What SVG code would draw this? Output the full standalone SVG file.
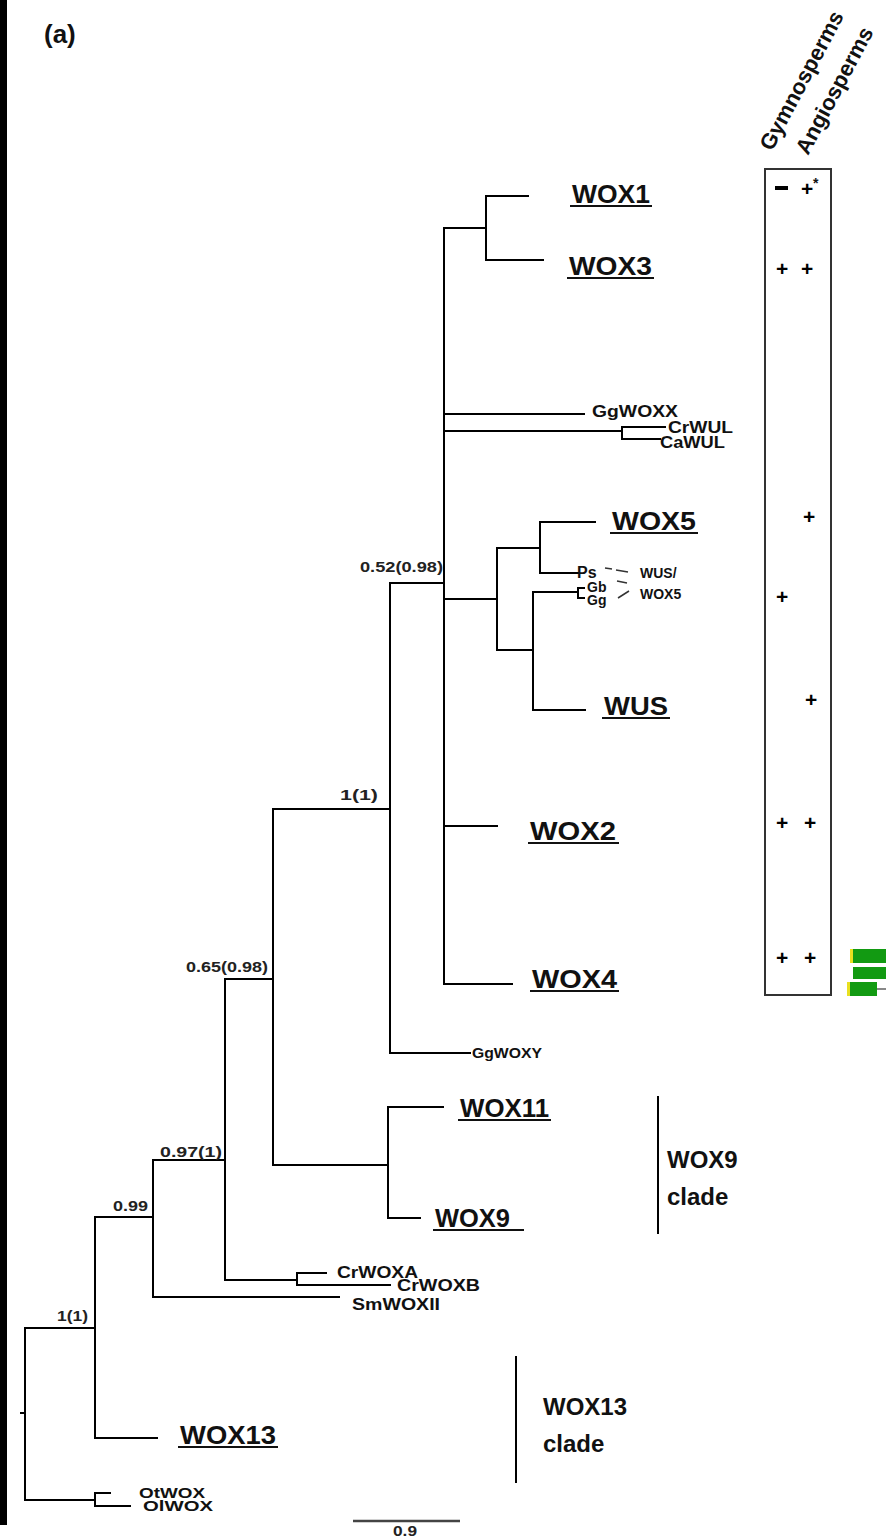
<svg xmlns="http://www.w3.org/2000/svg" width="886" height="1539" viewBox="0 0 886 1539">
<style>
.br{stroke:#000;stroke-width:2;fill:none;stroke-linecap:square}
.big{font-family:"Liberation Sans",Arial,sans-serif;font-weight:bold;font-size:26px;fill:#111}
.ul{stroke:#111;stroke-width:2}
.sm{font-family:"Liberation Sans",Arial,sans-serif;font-weight:bold;font-size:16px;fill:#111}
.xs{font-family:"Liberation Sans",Arial,sans-serif;font-weight:bold;font-size:14px;fill:#111}
.sup{font-family:"Liberation Sans",Arial,sans-serif;font-weight:bold;font-size:14px;fill:#222}
.hd{font-family:"Liberation Sans",Arial,sans-serif;font-weight:bold;font-size:22px;fill:#111}
.pm{font-family:"Liberation Sans",Arial,sans-serif;font-weight:bold;font-size:21px;fill:#000}
.cl{font-family:"Liberation Sans",Arial,sans-serif;font-weight:bold;font-size:24px;fill:#111}
</style>
<rect width="886" height="1539" fill="#fff"/>
<rect x="0" y="0" width="7" height="1525" fill="#000"/>
<text x="44" y="43" style="font-family:'Liberation Sans',Arial,sans-serif;font-weight:bold;font-size:26px" fill="#111">(a)</text>

<g id="connectors">
<path class="br" d="M21,1413H25M25,1328V1500M25,1328H95M25,1500H95"/>
<path class="br" d="M95,1493V1506M95,1493H110M95,1506H130"/>
<path class="br" d="M95,1217V1438M95,1438H157M95,1217H153"/>
<path class="br" d="M153,1160V1297M153,1297H339M153,1160H225"/>
<path class="br" d="M225,979V1280M225,1280H297M297,1273V1285M297,1273H326M297,1285H390"/>
<path class="br" d="M225,979H273M273,809V1165M273,1165H388M388,1107V1218M388,1107H443M388,1218H420"/>
<path class="br" d="M273,809H390M390,583V1053M390,1053H470M390,583H444"/>
<path class="br" d="M444,228V984M444,228H486M486,196V260M486,196H528M486,260H543"/>
<path class="br" d="M444,414H584M444,431H622M622,427V439M622,427H665M622,439H660"/>
<path class="br" d="M444,599H497M497,548V650M497,548H540M540,522V573M540,522H595M540,573H578"/>
<path class="br" d="M497,650H533M533,592V710M533,710H585M533,592H578M578,588V598M578,588H584M578,598H584"/>
<path class="br" d="M444,826H497M444,984H512"/>
<path d="M605,568L612,569M616,570L628,572M617,581L627,583M618,598L629,591" stroke="#333" stroke-width="1.5" fill="none"/>
<path class="br" d="M658,1097V1233M516,1357V1482"/>
<path d="M353,1521H460" stroke="#444" stroke-width="2.5"/>
</g>

<g id="n-wox1"><text class="big" x="572" y="203" textLength="78" lengthAdjust="spacingAndGlyphs">WOX1</text><line class="ul" x1="570" y1="206" x2="652" y2="206"/></g>
<g id="n-wox3"><text class="big" x="569" y="275" textLength="83" lengthAdjust="spacingAndGlyphs">WOX3</text><line class="ul" x1="567" y1="278" x2="654" y2="278"/></g>
<g id="n-ggwoxx"><text class="sm" x="592" y="417" textLength="86" lengthAdjust="spacingAndGlyphs">GgWOXX</text></g>
<g id="n-crwul"><text class="sm" x="668" y="433" textLength="65" lengthAdjust="spacingAndGlyphs">CrWUL</text></g>
<g id="n-cawul"><text class="sm" x="660" y="448" textLength="65" lengthAdjust="spacingAndGlyphs">CaWUL</text></g>
<g id="n-wox5"><text class="big" x="612" y="530" textLength="84" lengthAdjust="spacingAndGlyphs">WOX5</text><line class="ul" x1="610" y1="533" x2="698" y2="533"/></g>
<g id="n-ps"><text class="sm" x="577" y="578">Ps</text></g>
<g id="n-gb"><text class="xs" x="587" y="592">Gb</text></g>
<g id="n-gg"><text class="xs" x="587" y="605">Gg</text></g>
<g id="n-wuswox5"><text class="xs" x="640" y="578">WUS/</text><text class="xs" x="640" y="599">WOX5</text></g>
<g id="n-wus"><text class="big" x="604" y="715" textLength="64" lengthAdjust="spacingAndGlyphs">WUS</text><line class="ul" x1="602" y1="718" x2="670" y2="718"/></g>
<g id="n-wox2"><text class="big" x="530" y="840" textLength="86" lengthAdjust="spacingAndGlyphs">WOX2</text><line class="ul" x1="528" y1="843" x2="619" y2="843"/></g>
<g id="n-wox4"><text class="big" x="532" y="988" textLength="85" lengthAdjust="spacingAndGlyphs">WOX4</text><line class="ul" x1="530" y1="991" x2="619" y2="991"/></g>
<g id="n-ggwoxy"><text class="xs" x="472" y="1058" textLength="70" lengthAdjust="spacingAndGlyphs">GgWOXY</text></g>
<g id="n-wox11"><text class="big" x="460" y="1117" textLength="89" lengthAdjust="spacingAndGlyphs">WOX11</text><line class="ul" x1="458" y1="1120" x2="551" y2="1120"/></g>
<g id="n-wox9"><text class="big" x="435" y="1227" textLength="75" lengthAdjust="spacingAndGlyphs">WOX9</text><line class="ul" x1="433" y1="1230" x2="524" y2="1230"/></g>
<g id="n-crwoxa"><text class="sm" x="337" y="1278" textLength="81" lengthAdjust="spacingAndGlyphs">CrWOXA</text></g>
<g id="n-crwoxb"><text class="sm" x="397" y="1291" textLength="83" lengthAdjust="spacingAndGlyphs">CrWOXB</text></g>
<g id="n-smwoxii"><text class="sm" x="352" y="1310" textLength="88" lengthAdjust="spacingAndGlyphs">SmWOXII</text></g>
<g id="n-wox13"><text class="big" x="180" y="1444" textLength="96" lengthAdjust="spacingAndGlyphs">WOX13</text><line class="ul" x1="178" y1="1447" x2="278" y2="1447"/></g>
<g id="n-otwox"><text class="xs" x="139" y="1498" textLength="66" lengthAdjust="spacingAndGlyphs">OtWOX</text></g>
<g id="n-olwox"><text class="xs" x="143" y="1511" textLength="70" lengthAdjust="spacingAndGlyphs">OlWOX</text></g>

<g id="support">
<text class="sup" x="360" y="572" textLength="83" lengthAdjust="spacingAndGlyphs">0.52(0.98)</text>
<text class="sup" x="340" y="800" textLength="38" lengthAdjust="spacingAndGlyphs">1(1)</text>
<text class="sup" x="186" y="972" textLength="82" lengthAdjust="spacingAndGlyphs">0.65(0.98)</text>
<text class="sup" x="160" y="1157" textLength="62" lengthAdjust="spacingAndGlyphs">0.97(1)</text>
<text class="sup" x="113" y="1211" textLength="35" lengthAdjust="spacingAndGlyphs">0.99</text>
<text class="sup" x="57" y="1321" textLength="31" lengthAdjust="spacingAndGlyphs">1(1)</text>
<text class="sup" x="393" y="1536" textLength="24" lengthAdjust="spacingAndGlyphs">0.9</text>
</g>

<g id="clade-wox9"><text class="cl" x="667" y="1168">WOX9</text><text class="cl" x="667" y="1205">clade</text></g>
<g id="clade-wox13"><text class="cl" x="543" y="1415">WOX13</text><text class="cl" x="543" y="1452">clade</text></g>

<g id="table">
<text class="hd" transform="translate(772,152) rotate(-62)">Gymnosperms</text>
<text class="hd" transform="translate(808,156) rotate(-62)">Angiosperms</text>
<rect x="765" y="169" width="66" height="826" fill="none" stroke="#333" stroke-width="2"/>
<rect x="775" y="186" width="13" height="4" fill="#000"/>
<text class="pm" x="801" y="196">+</text><text class="xs" x="813" y="188">*</text>
<text class="pm" x="776" y="276">+</text><text class="pm" x="801" y="276">+</text>
<text class="pm" x="803" y="524">+</text>
<text class="pm" x="776" y="604">+</text>
<text class="pm" x="805" y="707">+</text>
<text class="pm" x="776" y="830">+</text><text class="pm" x="804" y="830">+</text>
<text class="pm" x="776" y="965">+</text><text class="pm" x="804" y="965">+</text>
</g>

<g id="green-fragment">
<rect x="850" y="949" width="36" height="14" fill="#129a12"/><rect x="850" y="949" width="3" height="14" fill="#e8e020"/>
<rect x="853" y="967" width="33" height="12" fill="#129a12"/>
<rect x="847" y="982" width="30" height="14" fill="#129a12"/><rect x="847" y="982" width="3" height="14" fill="#e8e020"/>
<line x1="877" y1="989" x2="886" y2="989" stroke="#888" stroke-width="2"/>
</g>
</svg>
